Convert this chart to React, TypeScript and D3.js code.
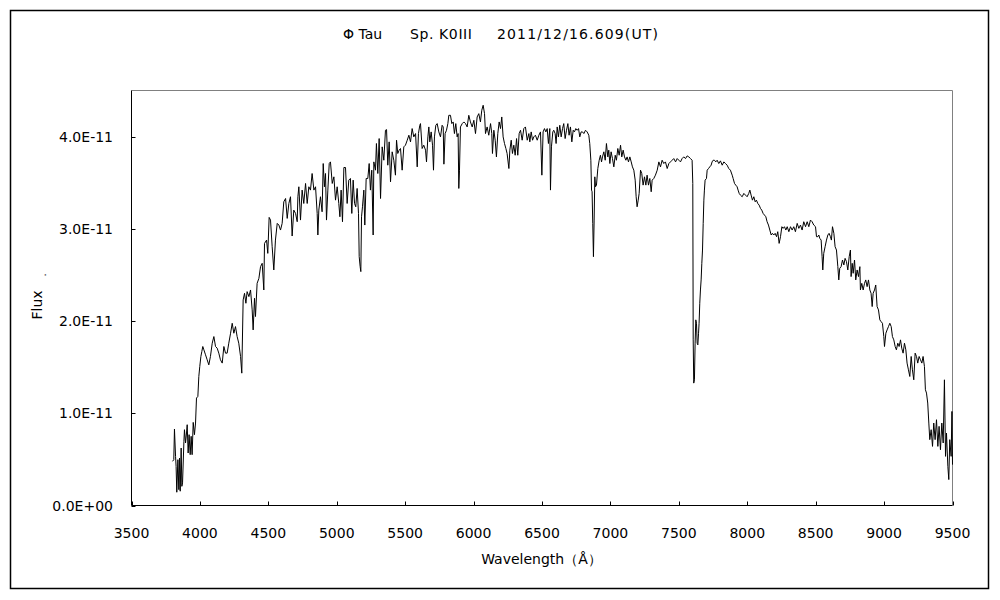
import React from "react";
import * as d3 from "d3";

const titleParts = ["Φ Tau", "Sp. K0III", "2011/12/16.609(UT)"];
const xTitle = "Wavelength（Å）";
const yTitle = "Flux";
const xTicks = [3500, 4000, 4500, 5000, 5500, 6000, 6500, 7000, 7500, 8000, 8500, 9000, 9500];
const yTicks = [0, 1, 2, 3, 4];
const yTickLabels = ["0.0E+00", "1.0E-11", "2.0E-11", "3.0E-11", "4.0E-11"];

// wavelength in Å
const wavelength = [
  3800, 3809, 3814, 3822, 3826, 3831, 3839, 3846, 3851, 3856, 3863, 3868, 3873, 3883, 3887, 3895, 3902, 3907, 3914, 3921,
  3929, 3936, 3943, 3951, 3960, 3968, 3975, 3985, 3992, 3999, 4007, 4014, 4021, 4029, 4041, 4053, 4065, 4077, 4090, 4102,
  4114, 4126, 4138, 4150, 4163, 4175, 4187, 4199, 4211, 4224, 4236, 4248, 4260, 4272, 4284, 4297, 4306, 4316, 4326, 4336,
  4345, 4358, 4370, 4382, 4389, 4399, 4406, 4418, 4431, 4443, 4455, 4467, 4472, 4487, 4496, 4506, 4516, 4528, 4540, 4552,
  4565, 4577, 4589, 4601, 4613, 4626, 4638, 4650,
  4662, 4674, 4686, 4699, 4711, 4716, 4723, 4735, 4747, 4759, 4772, 4784, 4796, 4808, 4820, 4833, 4845, 4857, 4862, 4869,
  4881, 4893, 4901, 4910, 4918, 4925, 4935, 4945, 4954, 4967, 4979, 4991, 5003, 5015, 5023, 5032, 5042, 5052, 5064, 5076,
  5088, 5100, 5110, 5120, 5130, 5139, 5149, 5159, 5164, 5171, 5176, 5181, 5188, 5198, 5205, 5215, 5227, 5237, 5246, 5256,
  5266, 5271, 5283, 5290, 5300, 5310, 5320, 5332, 5344, 5356, 5364, 5373, 5383, 5393, 5405, 5417, 5429, 5437, 5446, 5456,
  5466, 5478, 5490, 5502, 5515, 5527, 5539, 5551, 5563, 5576, 5588, 5597, 5607,
  5612, 5624, 5636, 5649, 5656, 5666, 5673, 5680, 5690, 5700, 5707, 5714, 5724, 5734, 5746, 5758, 5770, 5778, 5783, 5792,
  5802, 5812, 5819, 5831, 5841, 5851, 5860, 5870, 5880, 5887, 5892, 5897, 5904, 5917, 5929, 5941, 5953, 5965, 5977, 5990,
  6002, 6014, 6026, 6038, 6050, 6060, 6070, 6080, 6087, 6099, 6111, 6124, 6133, 6138, 6148, 6158, 6167, 6177, 6187, 6197,
  6206, 6216, 6226, 6236, 6245, 6258, 6265, 6275, 6284, 6294, 6304, 6314, 6323, 6333, 6343, 6355, 6367, 6379, 6392, 6404,
  6411, 6421, 6431, 6440, 6452, 6465, 6477, 6489, 6499, 6508, 6518, 6528, 6538, 6547, 6557, 6562,
  6569, 6579, 6586, 6596, 6603, 6611, 6620, 6630, 6640, 6650, 6659, 6669, 6679, 6689, 6698, 6708, 6718, 6728, 6737, 6747,
  6757, 6767, 6776, 6786, 6796, 6806, 6818, 6830, 6842, 6849, 6857, 6862, 6866, 6871, 6876, 6881, 6886, 6891, 6898, 6908,
  6918, 6927, 6935, 6942, 6952, 6962, 6971, 6981, 6988, 6996, 7005, 7015, 7025, 7035, 7044, 7054, 7064, 7074, 7083, 7093,
  7103, 7113, 7122, 7132, 7142, 7152, 7161, 7171, 7181, 7188, 7195, 7203, 7210, 7220, 7229, 7239, 7249, 7259, 7268, 7278,
  7288, 7298, 7305, 7317, 7329, 7342, 7354, 7366, 7378, 7390, 7402, 7415, 7427, 7439, 7451, 7463, 7476, 7488, 7500,
  7512, 7524, 7536, 7549, 7561, 7573, 7585, 7597, 7602, 7605, 7609, 7614, 7619, 7624, 7629, 7634, 7639, 7644, 7648, 7653,
  7658, 7663, 7668, 7673, 7678, 7683, 7687, 7692, 7702, 7707, 7717, 7726, 7736, 7743, 7751, 7760, 7770, 7780, 7792, 7804,
  7817, 7829, 7841, 7853, 7865, 7877, 7890, 7897, 7907, 7916, 7926, 7933, 7941, 7950, 7963, 7975, 7987, 7999, 8011, 8019,
  8028, 8038, 8048, 8058, 8067, 8077, 8087, 8097, 8106, 8116, 8126, 8136, 8145, 8155, 8165, 8175, 8184, 8194, 8204, 8214,
  8223, 8233, 8243, 8253, 8262, 8272, 8282, 8292, 8304, 8316, 8328, 8340, 8352, 8365, 8377, 8389, 8401, 8413, 8426, 8438,
  8450,
  8462, 8474, 8486, 8499, 8506, 8516, 8523, 8530, 8540, 8547, 8552, 8559, 8569, 8579, 8589, 8598, 8608, 8615, 8623, 8633,
  8642, 8652, 8662, 8669, 8676, 8686, 8696, 8706, 8715, 8725, 8735, 8745, 8754, 8759, 8767, 8774, 8784, 8793, 8803, 8813,
  8823, 8827, 8837, 8847, 8857, 8866, 8876, 8886, 8896, 8905, 8913, 8920, 8930, 8939, 8949, 8959, 8969, 8978, 8988, 8998,
  9003, 9013, 9022, 9032, 9042, 9052, 9061, 9071, 9081, 9090, 9100, 9110, 9120, 9129, 9139, 9149, 9159, 9168, 9178, 9188,
  9198, 9207, 9217, 9227, 9237, 9246, 9256, 9266, 9276, 9285, 9295, 9302, 9310, 9319, 9327, 9334, 9344, 9354, 9363, 9373,
  9383, 9393, 9402, 9412, 9422, 9432, 9441, 9449, 9456, 9466, 9473, 9480, 9490, 9496, 9500,
];

// flux in units of 1E-11
const flux = [
  0.479, 0.497, 0.829, 0.533, 0.423, 0.144, 0.497, 0.172, 0.515, 0.155, 0.623, 0.208, 0.245, 0.696, 0.822, 0.678, 0.786, 0.876, 0.569, 0.768,
  0.551, 0.750, 0.551, 0.901, 0.768, 0.894, 1.165, 1.183, 1.399, 1.507, 1.616, 1.670, 1.724, 1.688, 1.634, 1.580, 1.525, 1.616, 1.760, 1.832,
  1.724, 1.706, 1.652, 1.580, 1.544, 1.724, 1.652, 1.652, 1.760, 1.868, 1.976, 1.868, 1.940, 1.832, 1.760, 1.616, 1.435, 2.229, 2.301, 2.193,
  2.319, 2.265, 2.337, 2.121, 1.904, 2.247, 2.049, 2.409, 2.463, 2.590, 2.626, 2.337, 2.842, 2.878, 2.734, 3.124, 3.095, 2.806, 2.554, 2.878,
  3.059, 3.041, 2.987, 3.059, 3.293, 3.329, 3.113, 3.275,
  3.348, 2.922, 3.203, 3.167, 3.077, 3.348, 3.456, 3.095, 3.420, 3.275, 3.492, 3.275, 3.456, 3.420, 3.600, 3.420, 3.456, 3.167, 2.933, 3.203,
  3.348, 3.185, 3.708, 3.456, 3.600, 3.095, 3.420, 3.708, 3.726, 3.492, 3.564, 3.311, 3.456, 3.275, 3.131, 3.420, 3.077, 3.665, 3.665, 3.275,
  3.528, 3.546, 3.167, 3.528, 3.275, 3.239, 3.438, 3.167, 2.698, 2.590, 2.536, 3.131, 3.239, 3.420, 3.041, 3.546, 3.546, 3.708, 3.420, 3.636,
  2.933, 3.726, 3.636, 3.925, 3.600, 3.979, 3.329, 3.889, 3.744, 4.069, 4.076, 3.690, 3.943, 3.510, 3.835, 3.744, 3.582, 3.961, 3.817, 3.853,
  3.871, 3.636, 3.889, 3.907, 3.961, 4.015, 3.943, 4.087, 3.997, 4.033, 3.672, 4.033, 4.123,
  4.141, 3.871, 3.907, 3.853, 3.726, 3.997, 4.105, 3.943, 4.051, 3.907, 3.636, 3.997, 4.123, 4.141, 4.051, 3.997, 4.123, 4.105, 3.701, 4.033,
  4.069, 4.141, 4.231, 4.231, 4.141, 4.159, 4.033, 4.141, 3.997, 4.033, 3.438, 3.636, 4.105, 4.141, 4.159, 4.141, 4.105, 4.231, 4.159, 4.105,
  4.177, 4.033, 4.213, 4.249, 4.159, 4.286, 4.340, 4.249, 4.033, 4.105, 4.015, 4.141, 4.033, 3.817, 4.069, 3.961, 3.780, 4.033, 4.159, 4.087,
  4.213, 3.997, 3.925, 3.871, 3.817, 3.654, 3.853, 3.961, 3.817, 3.907, 3.798, 3.979, 3.798, 4.033, 4.069, 3.961, 4.087, 4.105, 3.961, 4.033,
  3.943, 4.051, 3.961, 3.997, 4.015, 3.961, 4.015, 4.051, 3.582, 4.051, 4.087, 4.051, 4.087, 3.925, 4.087, 3.420,
  3.889, 4.051, 4.069, 4.033, 3.925, 4.105, 3.997, 4.123, 3.997, 4.087, 4.141, 3.979, 4.069, 4.141, 4.015, 4.105, 3.943, 4.069, 4.051, 4.087,
  4.069, 4.087, 3.997, 4.051, 4.051, 4.033, 4.069, 4.051, 4.015, 3.925, 3.744, 3.420, 3.402, 3.059, 2.698, 3.095, 3.564, 3.456, 3.474, 3.654,
  3.744, 3.798, 3.726, 3.780, 3.835, 3.744, 3.925, 3.780, 3.853, 3.708, 3.835, 3.762, 3.672, 3.798, 3.744, 3.871, 3.798, 3.907, 3.780, 3.853,
  3.780, 3.744, 3.780, 3.726, 3.780, 3.726, 3.672, 3.636, 3.528, 3.348, 3.239, 3.311, 3.384, 3.636, 3.600, 3.474, 3.564, 3.474, 3.582, 3.474,
  3.546, 3.402, 3.528, 3.546, 3.582, 3.636, 3.726, 3.672, 3.744, 3.708, 3.726, 3.654, 3.708, 3.726, 3.744, 3.762, 3.726, 3.762, 3.744,
  3.726, 3.762, 3.780, 3.762, 3.791, 3.780, 3.762, 3.744, 3.492, 1.796, 1.327, 1.363, 1.760, 2.013, 1.976, 1.760, 1.742, 1.868, 1.976, 2.193,
  2.337, 2.446, 2.626, 2.770, 3.059, 3.311, 3.420, 3.528, 3.546, 3.636, 3.654, 3.672, 3.690, 3.726, 3.744, 3.744, 3.726, 3.744, 3.708, 3.737,
  3.690, 3.726, 3.708, 3.690, 3.654, 3.636, 3.582, 3.546, 3.492, 3.474, 3.456, 3.420, 3.384, 3.366, 3.348, 3.384, 3.366, 3.348, 3.384, 3.420,
  3.366, 3.311, 3.348, 3.293, 3.311, 3.275, 3.257, 3.221, 3.203, 3.167, 3.149, 3.131, 3.077, 3.041, 2.987, 2.933, 2.951, 2.933, 2.951, 2.915,
  2.969, 2.842, 2.915, 3.023, 3.005, 3.023, 2.987, 3.023, 2.969, 3.023, 2.987, 3.023, 2.969, 3.059, 3.005, 3.041, 2.987, 3.077, 3.023, 3.077,
  3.023,
  3.095, 3.077, 3.041, 3.023, 2.915, 2.915, 2.933, 2.897, 2.878, 2.698, 2.554, 2.734, 2.806, 2.878, 2.933, 2.951, 2.915, 2.878, 3.023, 2.951,
  2.806, 2.770, 2.590, 2.446, 2.572, 2.590, 2.662, 2.608, 2.680, 2.644, 2.554, 2.698, 2.770, 2.482, 2.626, 2.518, 2.662, 2.446, 2.554, 2.482,
  2.590, 2.337, 2.409, 2.337, 2.409, 2.446, 2.373, 2.446, 2.337, 2.301, 2.157, 2.301, 2.337, 2.391, 2.157, 2.121, 2.013, 1.994, 1.976, 1.832,
  1.724, 1.868, 1.904, 1.940, 1.976, 1.940, 1.832, 1.796, 1.724, 1.688, 1.760, 1.724, 1.796, 1.706, 1.652, 1.760, 1.688, 1.544, 1.471, 1.399,
  1.616, 1.471, 1.363, 1.652, 1.616, 1.544, 1.616, 1.580, 1.544, 1.616, 1.507, 1.255, 1.219, 1.111, 0.894, 0.714, 0.822, 0.641, 0.894, 0.714,
  0.930, 0.641, 0.858, 0.605, 0.894, 0.678, 1.363, 0.533, 0.786, 0.425, 0.281, 0.714, 0.533, 1.020, 0.443,
];

const FONT = "'DejaVu Sans', sans-serif";

export default function App() {
  const W = 1000;
  const H = 600;
  const left = 131.5, right = 952.5, top = 90.5, bottom = 505.5;
  const x = d3.scaleLinear().domain([3500, 9500]).range([left, right]);
  const y = d3.scaleLinear().domain([0, 4.5]).range([bottom, top]);
  const pts: [number, number][] = wavelength.map((w, i) => [w, flux[i]]);
  const line = d3
    .line<[number, number]>()
    .x((d) => x(d[0]))
    .y((d) => y(d[1]));
  const path = line(pts) || "";

  return (
    <svg
      width={W}
      height={H}
      style={{ position: "absolute", left: 0, top: 0, background: "#fff" }}
      fontFamily={FONT}
    >
      <rect x={0} y={0} width={W} height={H} fill="#fff" />
      <rect x={10.5} y={10.5} width={978} height={578} fill="none" stroke="#000" strokeWidth={1.5} />
      <text x={343} y={39} fontSize={14}>{titleParts[0]}</text>
      <text x={410} y={39} fontSize={14} textLength={62} lengthAdjust="spacing">{titleParts[1]}</text>
      <text x={497} y={39} fontSize={14} textLength={161} lengthAdjust="spacing">{titleParts[2]}</text>
      {/* plot frame */}
      <line x1={left} x2={right} y1={top} y2={top} stroke="#808080" strokeWidth={1} />
      <line x1={right} x2={right} y1={top} y2={bottom} stroke="#808080" strokeWidth={1} />
      <line x1={left} x2={left} y1={top} y2={bottom} stroke="#000" strokeWidth={1} />
      <line x1={left} x2={right} y1={bottom} y2={bottom} stroke="#000" strokeWidth={1} />
      {/* x ticks */}
      {xTicks.map((t) => (
        <g key={"x" + t}>
          <line x1={Math.round(x(t)) + 0.5} x2={Math.round(x(t)) + 0.5} y1={bottom} y2={bottom - 4} stroke="#000" />
          <text x={x(t)} y={538} textAnchor="middle" fontSize={14}>
            {t}
          </text>
        </g>
      ))}
      {/* y ticks */}
      {yTicks.map((t, i) => (
        <g key={"y" + t}>
          <line x1={left} x2={left + 4} y1={Math.round(y(t)) + 0.5} y2={Math.round(y(t)) + 0.5} stroke="#000" />
          <text x={113} y={y(t) + 5} textAnchor="end" fontSize={14}>
            {yTickLabels[i]}
          </text>
        </g>
      ))}
      <text x={541.5} y={564} textAnchor="middle" fontSize={14}>
        {xTitle}
      </text>
      <text transform="translate(42,305) rotate(-90)" textAnchor="middle" fontSize={14}>
        {yTitle}
      </text>
      <text transform="translate(46,275) rotate(-90)" textAnchor="middle" fontSize={10}>
        .
      </text>
      <path d={path} fill="none" stroke="#000" strokeWidth={1} />
    </svg>
  );
}
